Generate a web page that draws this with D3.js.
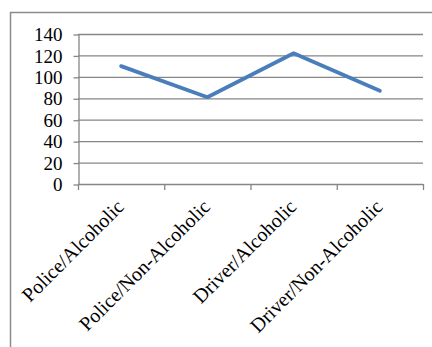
<!DOCTYPE html>
<html>
<head>
<meta charset="utf-8">
<script src="https://cdn.jsdelivr.net/npm/d3@7"></script>
<style>
  html, body { margin: 0; padding: 0; background: #fff; }
  svg { display: block; }
</style>
</head>
<body>
<script>
// Chart data
const categories = ["Police/Alcoholic", "Police/Non-Alcoholic", "Driver/Alcoholic", "Driver/Non-Alcoholic"];
const values = [110, 81, 122, 87];
const yTicks = [0, 20, 40, 60, 80, 100, 120, 140];

const W = 432, H = 347;
const plot = { left: 78, right: 423, top: 34, bottom: 184 };
const gridColor = "#868686";
const font = "'Liberation Serif', 'Times New Roman', serif";

const svg = d3.select("body").append("svg")
  .attr("width", W).attr("height", H);

// Outer chart frame (left and top edges visible)
svg.append("path")
  .attr("d", `M10.5,${H} L10.5,12.5 L${W},12.5`)
  .attr("fill", "none")
  .attr("stroke", "#8c8c8c")
  .attr("stroke-width", 1.5);

const x = d3.scaleBand().domain(categories).range([plot.left, plot.right]);
const y = d3.scaleLinear().domain([0, 140]).range([plot.bottom, plot.top]);

// Horizontal gridlines
svg.append("g").selectAll("line")
  .data(yTicks.filter(d => d > 0))
  .join("line")
  .attr("x1", plot.left).attr("x2", plot.right)
  .attr("y1", d => y(d) + 0.5).attr("y2", d => y(d) + 0.5)
  .attr("stroke", gridColor).attr("stroke-width", 1.3);

// Y axis
const yAxis = svg.append("g")
  .attr("transform", `translate(${plot.left + 0.5},0.5)`)
  .call(d3.axisLeft(y).tickValues(yTicks).tickSize(5).tickPadding(11).tickSizeOuter(0));
yAxis.select(".domain").attr("stroke", gridColor).attr("stroke-width", 1.3);
yAxis.selectAll(".tick line").attr("stroke", gridColor).attr("stroke-width", 1.3);
yAxis.selectAll(".tick text")
  .attr("fill", "#000")
  .style("font-family", font)
  .style("font-size", "19px");

// X axis with category-boundary ticks
const boundaries = [plot.left, ...categories.map(c => x(c) + x.bandwidth())];
const xg = svg.append("g");
xg.append("line")
  .attr("x1", plot.left).attr("x2", plot.right)
  .attr("y1", plot.bottom + 0.5).attr("y2", plot.bottom + 0.5)
  .attr("stroke", gridColor).attr("stroke-width", 1.3);
xg.selectAll("line.tick")
  .data(boundaries)
  .join("line")
  .attr("class", "tick")
  .attr("x1", d => d + 0.5).attr("x2", d => d + 0.5)
  .attr("y1", plot.bottom).attr("y2", plot.bottom + 6)
  .attr("stroke", gridColor).attr("stroke-width", 1.3);

// Rotated category labels
xg.selectAll("text")
  .data(categories)
  .join("text")
  .attr("transform", d => `translate(${x(d) + x.bandwidth() / 2 + 4},${plot.bottom + 24}) rotate(-45)`)
  .attr("text-anchor", "end")
  .attr("fill", "#000")
  .style("font-family", font)
  .style("font-size", "20px")
  .text(d => d);

// Data line
const line = d3.line()
  .x((d, i) => x(categories[i]) + x.bandwidth() / 2)
  .y(d => y(d));

svg.append("path")
  .datum(values)
  .attr("d", line)
  .attr("fill", "none")
  .attr("stroke", "#4a7ebb")
  .attr("stroke-width", 3.8)
  .attr("stroke-linecap", "round")
  .attr("stroke-linejoin", "round");
</script>
</body>
</html>
